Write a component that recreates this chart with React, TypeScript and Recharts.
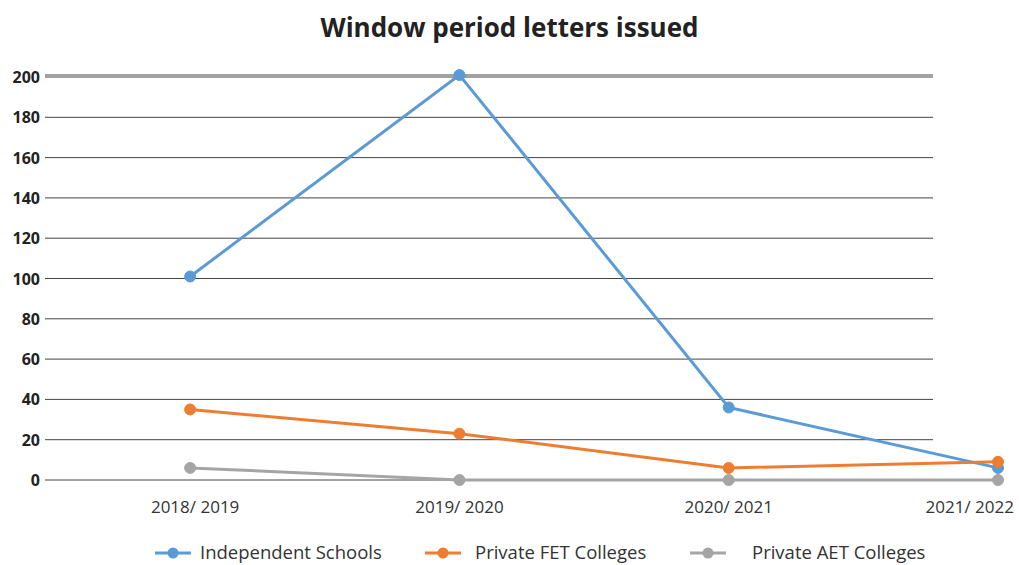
import React from 'react';
import { LineChart, Line, XAxis, YAxis, CartesianGrid } from 'recharts';

const categories = ['2018/ 2019', '2019/ 2020', '2020/ 2021', '2021/ 2022'];
const independentSchools = [101, 201, 36, 6];
const privateFET = [35, 23, 6, 9];
const privateAET = [6, 0, 0, 0];
const yTicks = [0, 20, 40, 60, 80, 100, 120, 140, 160, 180, 200];

const seriesDefs = [
  { key: 'independent', name: 'Independent Schools', color: '#5B9BD5' },
  { key: 'fet', name: 'Private FET Colleges', color: '#ED7D31' },
  { key: 'aet', name: 'Private AET Colleges', color: '#A5A5A5' },
];

const data = categories.map((c, i) => ({
  idx: i,
  label: c,
  independent: independentSchools[i],
  fet: privateFET[i],
  aet: privateAET[i],
}));

const FONT = '"Open Sans", Lato, sans-serif';

const XTick = (props: any) => {
  const { x, payload, index } = props;
  const last = index === categories.length - 1;
  return (
    <text
      x={last ? 1014 : x + (index === 0 ? 5 : 0)}
      y={513}
      textAnchor={last ? 'end' : 'middle'}
      fill="#333"
      fontSize={17}
      fontFamily={FONT}
    >
      {categories[payload.value]}
    </text>
  );
};

const YTick = (props: any) => {
  const { y, payload } = props;
  return (
    <text x={40} y={y + 6} textAnchor="end" fill="#222" fontSize={16} fontWeight="bold" fontFamily={FONT}>
      {payload.value}
    </text>
  );
};

const legendX = [155, 425, 690];
const legendTextX = [200, 475, 752];

const LegendBlock = () => (
  <svg width={1019} height={30} style={{ position: 'absolute', left: 0, top: 538 }}>
    {seriesDefs.map((s, i) => (
      <g key={s.key}>
        <line x1={legendX[i]} x2={legendX[i] + 36} y1={15} y2={15} stroke={s.color} strokeWidth={3} />
        <circle cx={legendX[i] + 18} cy={15} r={5.5} fill={s.color} />
        <text x={legendTextX[i]} y={21} fill="#333" fontSize={18.5} fontFamily={FONT}>
          {s.name}
        </text>
      </g>
    ))}
  </svg>
);

export default function App() {
  return (
    <div style={{ position: 'absolute', left: 0, top: 0, width: 1019, height: 565, background: '#fff' }}>
      <div
        style={{
          position: 'absolute',
          left: 0,
          top: 10,
          width: 1019,
          textAlign: 'center',
          fontFamily: FONT,
          fontWeight: 'bold',
          fontSize: 26,
          color: '#222',
          lineHeight: '34px',
        }}
      >
        Window period letters issued
      </div>
      <div style={{ position: 'absolute', left: 0, top: 0 }}>
        <LineChart
          width={1019}
          height={565}
          data={data}
          margin={{ top: 75, right: 21, bottom: 45, left: 0 }}
        >
          <CartesianGrid
            horizontal={{ shapeRendering: 'crispEdges' } as any}
            vertical={false}
            x={45}
            width={888}
            stroke="#444"
            strokeWidth={1}
          />
          <XAxis
            dataKey="idx"
            type="number"
            domain={[-0.539, 3]}
            ticks={[0, 1, 2, 3]}
            axisLine={false}
            tickLine={false}
            tick={<XTick />}
            interval={0}
            height={40}
          />
          <YAxis
            domain={[0, 200]}
            ticks={yTicks}
            axisLine={false}
            tickLine={false}
            width={45}
            tick={<YTick />}
            interval={0}
          />
          {seriesDefs.map((s) => (
            <Line
              key={s.key}
              type="linear"
              dataKey={s.key}
              name={s.name}
              stroke={s.color}
              strokeWidth={3}
              dot={{ r: 5.5, fill: s.color, stroke: s.color, strokeWidth: 1 }}
              isAnimationActive={false}
            />
          ))}
        </LineChart>
      </div>
      <LegendBlock />
    </div>
  );
}
